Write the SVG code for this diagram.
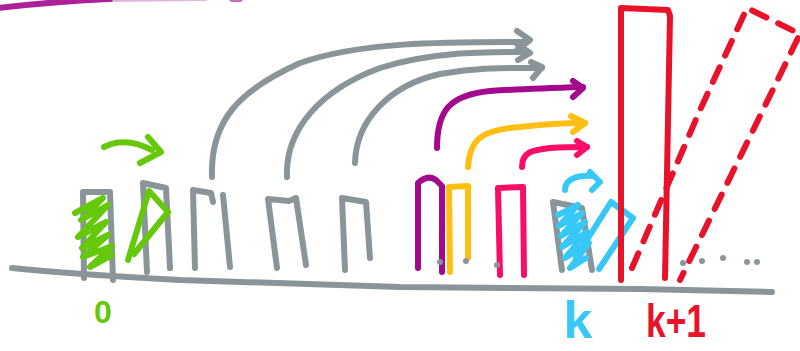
<svg xmlns="http://www.w3.org/2000/svg" width="800" height="351" viewBox="0 0 800 351">
<style>
path, polyline, line { fill: none; stroke-width: 6; stroke-linecap: round; stroke-linejoin: round; }
.g { stroke: #8a9599; }
.gr { stroke: #66c80a; }
.bl { stroke: #38c8f8; }
.rd { stroke: #e8132a; }
.pu { stroke: #a3098c; }
.ye { stroke: #ffbe12; }
.pk { stroke: #fa0d66; }
.dash { stroke-dasharray: 16 13; }
.dot { fill: #8a9599; stroke: none; }
text { font-family: "Liberation Sans", Arial, sans-serif; font-weight: bold; }
</style>

<g id="top-stroke">
  <path class="pu" d="M-2,8 Q60,1 110,-1" stroke-width="7" opacity="0.9"/>
  <path class="pu" d="M110,-1 L205,-2" stroke-width="4" opacity="0.3"/>
  <path class="pu" d="M232,-1 L240,-1" opacity="0.6"/>
</g>

<g id="baseline">
  <path class="g" d="M12,268 Q70,274 180,280 L400,287 L640,289 L772,292"/>
</g>

<g id="bar-0">
  <path class="g" d="M84,278 L83,192 L110,192 L113,280"/>
  <polyline class="gr" points="75,213 103,198 81,220 108,205 78,237 106,222 82,248 108,235 83,257 112,246 90,267 112,255"/>
</g>

<g id="bar-1">
  <path class="g" d="M147,272 L143,183 L166,188 L170,268"/>
  <path class="gr" d="M128,260 L149,191 L168,212 L134,254"/>
</g>

<g id="bar-2">
  <path class="g" d="M195,268 L193,190 L211,193 L213,202"/>
  <path class="g" d="M223,195 L230,267"/>
</g>

<g id="bar-3">
  <path class="g" d="M277,268 L268,199 L289,201 L296,198 L306,265"/>
</g>

<g id="bar-4">
  <path class="g" d="M345,270 L342,198 L366,202 L370,258"/>
</g>

<g id="bar-5">
  <path class="pu" d="M418,268 L418,183 Q428,174 436,180 L442,186 L442,272"/>
  <circle class="dot" cx="440" cy="262" r="3"/>
</g>

<g id="bar-6">
  <path class="ye" d="M450,272 L449,187 L468,186 L468,258"/>
  <circle class="dot" cx="466" cy="261" r="3"/>
</g>

<g id="bar-7">
  <path class="pk" d="M500,275 L498,188 L523,187 L524,275"/>
  <circle class="dot" cx="497" cy="265" r="3"/>
</g>

<g id="bar-k">
  <path class="g" d="M562,270 L553,202 L582,208 L592,270"/>
  <polyline class="bl" points="558,215 578,205 559,226 582,213 561,236 585,222 562,247 587,232 565,258 589,243 570,268 586,258"/>
  <path class="bl" d="M576,257 L611,202 L633,218 L599,269"/>
</g>

<g id="bar-k1">
  <path class="rd" d="M621,280 L621,8 L668,10 L670,16 L665,278"/>
  <path class="rd dash" d="M632,268 L700,110 L747,8 L800,34 L680,280"/>
  <circle class="dot" cx="683" cy="263" r="3"/>
  <circle class="dot" cx="702" cy="261" r="3"/>
  <circle class="dot" cx="723" cy="258" r="3"/>
  <circle class="dot" cx="747" cy="262" r="3"/>
  <circle class="dot" cx="757" cy="262" r="3"/>
</g>

<g id="connectors">
  <path class="gr" d="M104,147 Q125,136 152,150"/>
  <path class="gr" d="M148,137 L161,152 L140,163"/>

  <path class="g" d="M212,177 C210,120 240,90 300,63 C360,42 440,42 527,42"/>
  <path class="g" d="M517,31 L530,40 L517,50"/>
  <path class="g" d="M287,177 C285,130 320,90 380,68 C430,52 480,52 527,52"/>
  <path class="g" d="M517,44 L530,53 L518,60"/>
  <path class="g" d="M355,163 C356,120 390,85 440,74 C480,67 510,68 542,68"/>
  <path class="g" d="M531,62 L542,67 L533,78"/>

  <path class="pu" d="M437,148 C437,110 450,95 490,91 C520,89 550,88 583,87"/>
  <path class="pu" d="M573,81 L583,88 L573,97"/>
  <path class="ye" d="M468,167 C470,140 480,130 520,127 C545,124 565,123 585,123"/>
  <path class="ye" d="M571,116 L585,123 L573,132"/>
  <path class="pk" d="M522,167 C522,152 532,150 550,148 C565,147 575,147 587,147"/>
  <path class="pk" d="M577,141 L587,147 L577,155"/>
  <path class="bl" d="M565,190 C565,180 575,175 593,176"/>
  <path class="bl" d="M590,172 L600,182 L592,190"/>
</g>

<g id="labels">
  <text x="103" y="323" font-size="32" fill="#66c80a" text-anchor="middle">0</text>
  <text x="578" y="338" font-size="52" fill="#38c8f8" text-anchor="middle">k</text>
  <text x="646" y="337" font-size="46" fill="#e8132a" textLength="60" lengthAdjust="spacingAndGlyphs">k+1</text>
</g>
</svg>
